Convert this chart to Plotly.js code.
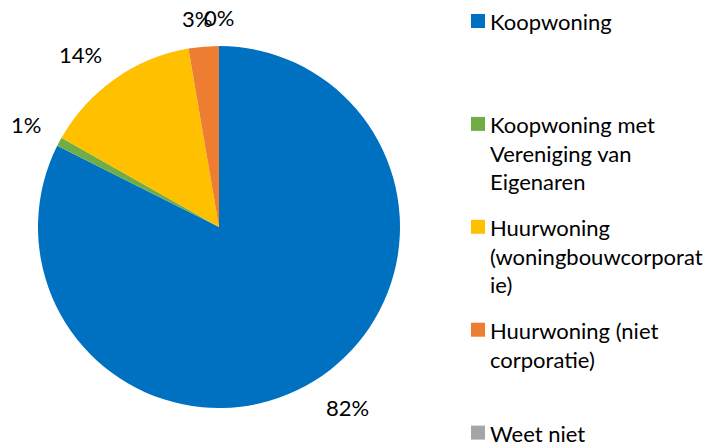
<!DOCTYPE html>
<html>
<head>
<meta charset="utf-8">
<script src="https://cdn.plot.ly/plotly-3.0.1.min.js"></script>
<style>html,body{margin:0;padding:0;background:#fff;}#chart{width:715px;height:443px;}</style>
</head>
<body>
<div id="chart"></div>
<script>
// ---- data ----
const categories = [
  'Koopwoning',
  'Koopwoning met Vereniging van Eigenaren',
  'Huurwoning (woningbouwcorporatie)',
  'Huurwoning (niet corporatie)',
  'Weet niet'
];
const legendLabels = [
  'Koopwoning',
  'Koopwoning met<br>Vereniging van<br>Eigenaren',
  'Huurwoning<br>(woningbouwcorporat<br>ie)',
  'Huurwoning (niet<br>corporatie)',
  'Weet niet'
];
const values = [82.4, 0.8, 14.1, 2.7, 0.0];
const colors = ['#0070C0', '#70AD47', '#FFC000', '#ED7D31', '#A5A5A5'];

// ---- layout constants ----
const W = 715, H = 443;
const FONT = 'Lato, "Open Sans", sans-serif';
const pie = {left: 38, right: 400, top: 46, bottom: 408};
const cx = (pie.left + pie.right) / 2, cy = (pie.top + pie.bottom) / 2;
const R = (pie.right - pie.left) / 2;
const labelGap = 21;

const px = x => x / W;
const py = y => 1 - y / H;
const clamp = t => Math.max(-1, Math.min(1, t));

const total = values.reduce((a, b) => a + b, 0);
const annotations = [];
const shapes = [];

// percentage labels outside the slices (box touching a ring just outside the pie)
let cum = 0;
values.forEach((v, i) => {
  const mid = (cum + v / 2) / total * 2 * Math.PI;
  cum += v;
  const s = Math.sin(mid), c = Math.cos(mid);
  const txt = Math.round(v / total * 100) + '%';
  const hw = txt.length * 7.5, hh = 8;
  const x = cx + (R + labelGap) * s + hw * clamp(s / 0.25);
  const y = cy - (R + labelGap) * c - hh * clamp(c / 0.25) + 1;
  annotations.push({
    x: px(x), y: py(y), xref: 'paper', yref: 'paper', showarrow: false,
    text: txt, xanchor: 'center', yanchor: 'middle',
    font: {family: FONT, size: 22, color: '#000'}
  });
});

// legend
const legendX = 471, legendSq = 14, legendTop = 21, legendStep = 102.9;
legendLabels.forEach((t, i) => {
  const yc = legendTop + i * legendStep;
  shapes.push({
    type: 'rect', xref: 'paper', yref: 'paper',
    x0: px(legendX), x1: px(legendX + legendSq),
    y0: py(yc - legendSq / 2), y1: py(yc + legendSq / 2),
    fillcolor: colors[i], line: {width: 0}
  });
  annotations.push({
    x: px(legendX + legendSq + 3), y: py(yc - 15), xref: 'paper', yref: 'paper',
    showarrow: false, xanchor: 'left', yanchor: 'top', align: 'left',
    text: t, font: {family: FONT, size: 22, color: '#000'}
  });
});

const trace = {
  type: 'pie',
  labels: categories,
  values: values,
  sort: false,
  direction: 'clockwise',
  rotation: 0,
  marker: {colors: colors, line: {width: 0}},
  textinfo: 'none',
  hoverinfo: 'label+percent',
  showlegend: false,
  domain: {x: [px(pie.left), px(pie.right)], y: [py(pie.bottom), py(pie.top)]}
};

Plotly.newPlot('chart', [trace], {
  width: W, height: H,
  margin: {l: 0, r: 0, t: 0, b: 0},
  paper_bgcolor: '#fff',
  showlegend: false,
  annotations: annotations,
  shapes: shapes
}, {staticPlot: true});
</script>
</body>
</html>
